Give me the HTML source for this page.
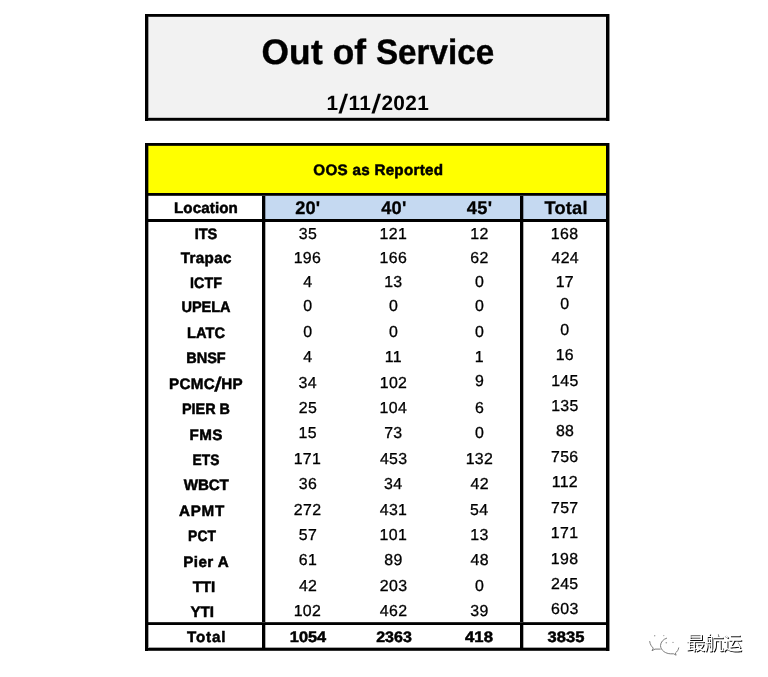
<!DOCTYPE html>
<html lang="en">
<head>
<meta charset="utf-8">
<title>Out of Service</title>
<style>
html,body{margin:0;padding:0;background:#fff;}
body{width:768px;height:677px;position:relative;overflow:hidden;font-family:"Liberation Sans","Noto Sans CJK SC",sans-serif;color:#000;}
.f{position:absolute;}
.t{position:absolute;white-space:nowrap;line-height:1;height:0;width:0;font-weight:700;}
.t>span{position:absolute;left:0;top:0;display:block;transform:translateX(-50%);white-space:nowrap;}
.n{font-weight:400;}
.sl.s2{font-size:1.3em;vertical-align:-0.12em;margin:0 0.02em 0 0.01em;}
body{text-rendering:geometricPrecision;}
.n{-webkit-text-stroke:0.3px #000;}
.l{-webkit-text-stroke:0.5px #000;}
.h{-webkit-text-stroke:0.3px #000;}
.sl{display:inline-block;font-size:1.27em;line-height:0;vertical-align:-0.125em;margin:0 0.05em 0 0.04em;transform:skewX(-8deg);}
.wm{position:absolute;left:685.8px;top:635.4px;font-size:19.6px;letter-spacing:-1.2px;line-height:1;white-space:nowrap;color:#fff;text-shadow:1px 1px 0.45px rgba(0,0,0,.95);font-family:"Liberation Sans","Noto Sans CJK SC",sans-serif;}
.wi{position:absolute;left:644px;top:628px;}
</style>
</head>
<body>

<div class="f" style="left:145px;top:14px;width:465px;height:107px;background:#8c8c8c"></div>
<div class="f" style="left:145px;top:14px;width:464px;height:107px;background:#000"></div>
<div class="f" style="left:148px;top:16px;width:458px;height:1px;background:#2e2e2e"></div>
<div class="f" style="left:148px;top:17px;width:458px;height:101px;background:#f2f2f2"></div>
<div class="f" style="left:148px;top:17px;width:1px;height:101px;background:#a0a0a0"></div>
<div class="f" style="left:149px;top:117px;width:457px;height:1px;background:#c4c4c4"></div>
<div class="f" style="left:148px;top:120px;width:458px;height:1px;background:#3a3a3a"></div>
<div class="f" style="left:145px;top:143px;width:465px;height:508px;background:#8c8c8c"></div>
<div class="f" style="left:145px;top:143px;width:464px;height:508px;background:#000"></div>
<div class="f" style="left:148px;top:145px;width:458px;height:1px;background:#2a2a00"></div>
<div class="f" style="left:148px;top:146px;width:458px;height:47px;background:#ffff00"></div>
<div class="f" style="left:148px;top:195px;width:458px;height:1px;background:#333"></div>
<div class="f" style="left:148px;top:196px;width:114px;height:23px;background:#fff"></div>
<div class="f" style="left:265px;top:196px;width:255px;height:23px;background:#c5d9f1"></div>
<div class="f" style="left:523px;top:196px;width:83px;height:23px;background:#c5d9f1"></div>
<div class="f" style="left:148px;top:222px;width:114px;height:400px;background:#fff"></div>
<div class="f" style="left:265px;top:222px;width:255px;height:400px;background:#fff"></div>
<div class="f" style="left:523px;top:222px;width:83px;height:400px;background:#fff"></div>
<div class="f" style="left:148px;top:622px;width:458px;height:1px;background:#2e2e2e"></div>
<div class="f" style="left:148px;top:625px;width:114px;height:23px;background:#fff"></div>
<div class="f" style="left:265px;top:625px;width:255px;height:23px;background:#fff"></div>
<div class="f" style="left:523px;top:625px;width:83px;height:23px;background:#fff"></div>
<div class="f" style="left:148px;top:650px;width:458px;height:1px;background:#333"></div>
<div class="f" style="left:148px;top:146px;width:1px;height:502px;background:rgba(0,0,0,.35)"></div>
<div class="f" style="left:265px;top:196px;width:1px;height:452px;background:rgba(0,0,0,.3)"></div>
<div class="f" style="left:523px;top:196px;width:1px;height:452px;background:rgba(0,0,0,.3)"></div>
<div class="f" style="left:149px;top:647px;width:457px;height:1px;background:rgba(0,0,0,.35)"></div>
<div class="g title"><div class="t" style="left:292.16px;top:34.72px;font-size:35.3px;-webkit-text-stroke:0.4px #000"><span style="letter-spacing:0.25px;margin-right:-0.25px">Out</span></div> <div class="t" style="left:349.37px;top:34.72px;font-size:35.3px;-webkit-text-stroke:0.4px #000"><span style="letter-spacing:-0.06px;margin-right:0.06px">of</span></div> <div class="t" style="left:434.65px;top:34.72px;font-size:35.3px;-webkit-text-stroke:0.4px #000"><span style="transform:scaleX(0.941) translateX(-50%);transform-origin:0 0">Service</span></div></div>
<div class="g date"><div class="t" style="left:377.85px;top:93.99px;font-size:20.8px"><span style="letter-spacing:0.39px;margin-right:-0.39px">1<span class="sl">/</span>11<span class="sl">/</span>2021</span></div></div>
<div class="g caption"><div class="t l" style="left:378.32px;top:163.13px;font-size:15.2px"><span style="letter-spacing:0.28px;margin-right:-0.28px">OOS as Reported</span></div></div>
<div class="g head"><div class="t l" style="left:205.95px;top:201.13px;font-size:15.2px"><span style="letter-spacing:0.09px;margin-right:-0.09px">Location</span></div> <div class="t h" style="left:307.79px;top:198.59px;font-size:18.2px"><span style="letter-spacing:0.22px;margin-right:-0.22px">20'</span></div> <div class="t h" style="left:393.85px;top:198.59px;font-size:18.2px"><span style="letter-spacing:0.21px;margin-right:-0.21px">40'</span></div> <div class="t h" style="left:479.64px;top:198.59px;font-size:18.2px"><span style="letter-spacing:0.44px;margin-right:-0.44px">45'</span></div> <div class="t h" style="left:566.12px;top:198.59px;font-size:18.2px"><span style="letter-spacing:0.23px;margin-right:-0.23px">Total</span></div></div>
<div class="g row r1"><div class="t l" style="left:206.03px;top:226.83px;font-size:15.2px"><span style="transform:scaleX(0.960) translateX(-50%);transform-origin:0 0">ITS</span></div> <div class="t n" style="left:307.95px;top:227.29px;font-size:15.9px"><span style="letter-spacing:0.3px;margin-right:-0.3px">35</span></div> <div class="t n" style="left:393.33px;top:227.29px;font-size:15.9px"><span style="letter-spacing:0.3px;margin-right:-0.3px">121</span></div> <div class="t n" style="left:479.4px;top:227.29px;font-size:15.9px"><span style="letter-spacing:0.3px;margin-right:-0.3px">12</span></div> <div class="t n" style="left:564.57px;top:227.29px;font-size:15.9px"><span style="letter-spacing:0.3px;margin-right:-0.3px">168</span></div></div>
<div class="g row r2"><div class="t l" style="left:206.24px;top:251.43px;font-size:15.2px"><span style="letter-spacing:0.37px;margin-right:-0.37px">Trapac</span></div> <div class="t n" style="left:307.35px;top:251.49px;font-size:15.9px"><span style="letter-spacing:0.3px;margin-right:-0.3px">196</span></div> <div class="t n" style="left:393.34px;top:251.49px;font-size:15.9px"><span style="letter-spacing:0.3px;margin-right:-0.3px">166</span></div> <div class="t n" style="left:479.4px;top:251.49px;font-size:15.9px"><span style="letter-spacing:0.3px;margin-right:-0.3px">62</span></div> <div class="t n" style="left:565.25px;top:251.49px;font-size:15.9px"><span style="letter-spacing:0.3px;margin-right:-0.3px">424</span></div></div>
<div class="g row r3"><div class="t l" style="left:205.96px;top:275.63px;font-size:15.2px"><span style="transform:scaleX(0.941) translateX(-50%);transform-origin:0 0">ICTF</span></div> <div class="t n" style="left:307.88px;top:275.29px;font-size:15.9px"><span style="letter-spacing:0.3px;margin-right:-0.3px">4</span></div> <div class="t n" style="left:393.3px;top:275.29px;font-size:15.9px"><span style="letter-spacing:0.3px;margin-right:-0.3px">13</span></div> <div class="t n" style="left:479.65px;top:274.59px;font-size:15.9px"><span style="letter-spacing:0.3px;margin-right:-0.3px">0</span></div> <div class="t n" style="left:564.85px;top:275.29px;font-size:15.9px"><span style="letter-spacing:0.3px;margin-right:-0.3px">17</span></div></div>
<div class="g row r4"><div class="t l" style="left:205.8px;top:300.23px;font-size:15.2px"><span style="transform:scaleX(0.956) translateX(-50%);transform-origin:0 0">UPELA</span></div> <div class="t n" style="left:307.87px;top:299.49px;font-size:15.9px"><span style="letter-spacing:0.3px;margin-right:-0.3px">0</span></div> <div class="t n" style="left:393.48px;top:299.49px;font-size:15.9px"><span style="letter-spacing:0.3px;margin-right:-0.3px">0</span></div> <div class="t n" style="left:479.65px;top:299.49px;font-size:15.9px"><span style="letter-spacing:0.3px;margin-right:-0.3px">0</span></div> <div class="t n" style="left:564.85px;top:296.79px;font-size:15.9px"><span style="letter-spacing:0.3px;margin-right:-0.3px">0</span></div></div>
<div class="g row r5"><div class="t l" style="left:206.02px;top:326.13px;font-size:15.2px"><span style="transform:scaleX(0.963) translateX(-50%);transform-origin:0 0">LATC</span></div> <div class="t n" style="left:307.87px;top:325.09px;font-size:15.9px"><span style="letter-spacing:0.3px;margin-right:-0.3px">0</span></div> <div class="t n" style="left:393.48px;top:325.09px;font-size:15.9px"><span style="letter-spacing:0.3px;margin-right:-0.3px">0</span></div> <div class="t n" style="left:479.65px;top:325.09px;font-size:15.9px"><span style="letter-spacing:0.3px;margin-right:-0.3px">0</span></div> <div class="t n" style="left:564.85px;top:323.09px;font-size:15.9px"><span style="letter-spacing:0.3px;margin-right:-0.3px">0</span></div></div>
<div class="g row r6"><div class="t l" style="left:205.95px;top:350.73px;font-size:15.2px"><span style="transform:scaleX(0.954) translateX(-50%);transform-origin:0 0">BNSF</span></div> <div class="t n" style="left:307.88px;top:350.09px;font-size:15.9px"><span style="letter-spacing:0.3px;margin-right:-0.3px">4</span></div> <div class="t n" style="left:393.3px;top:350.09px;font-size:15.9px"><span style="letter-spacing:0.3px;margin-right:-0.3px">11</span></div> <div class="t n" style="left:479.4px;top:350.09px;font-size:15.9px"><span style="letter-spacing:0.3px;margin-right:-0.3px">1</span></div> <div class="t n" style="left:564.85px;top:348.49px;font-size:15.9px"><span style="letter-spacing:0.3px;margin-right:-0.3px">16</span></div></div>
<div class="g row r7"><div class="t l" style="left:206.02px;top:376.93px;font-size:15.2px"><span style="letter-spacing:0.27px;margin-right:-0.27px">PCMC<span class="sl s2">/</span>HP</span></div> <div class="t n" style="left:307.67px;top:375.59px;font-size:15.9px"><span style="letter-spacing:0.3px;margin-right:-0.3px">34</span></div> <div class="t n" style="left:393.51px;top:375.59px;font-size:15.9px"><span style="letter-spacing:0.3px;margin-right:-0.3px">102</span></div> <div class="t n" style="left:479.68px;top:374.29px;font-size:15.9px"><span style="letter-spacing:0.3px;margin-right:-0.3px">9</span></div> <div class="t n" style="left:564.85px;top:374.29px;font-size:15.9px"><span style="letter-spacing:0.3px;margin-right:-0.3px">145</span></div></div>
<div class="g row r8"><div class="t l" style="left:206.07px;top:401.73px;font-size:15.2px"><span style="transform:scaleX(0.949) translateX(-50%);transform-origin:0 0">PIER B</span></div> <div class="t n" style="left:307.94px;top:401.29px;font-size:15.9px"><span style="letter-spacing:0.3px;margin-right:-0.3px">25</span></div> <div class="t n" style="left:393.34px;top:401.29px;font-size:15.9px"><span style="letter-spacing:0.3px;margin-right:-0.3px">104</span></div> <div class="t n" style="left:479.68px;top:400.59px;font-size:15.9px"><span style="letter-spacing:0.3px;margin-right:-0.3px">6</span></div> <div class="t n" style="left:564.85px;top:399.29px;font-size:15.9px"><span style="letter-spacing:0.3px;margin-right:-0.3px">135</span></div></div>
<div class="g row r9"><div class="t l" style="left:206.14px;top:427.83px;font-size:15.2px"><span style="letter-spacing:0.36px;margin-right:-0.36px">FMS</span></div> <div class="t n" style="left:307.67px;top:426.29px;font-size:15.9px"><span style="letter-spacing:0.3px;margin-right:-0.3px">15</span></div> <div class="t n" style="left:393.3px;top:426.29px;font-size:15.9px"><span style="letter-spacing:0.3px;margin-right:-0.3px">73</span></div> <div class="t n" style="left:479.65px;top:426.29px;font-size:15.9px"><span style="letter-spacing:0.3px;margin-right:-0.3px">0</span></div> <div class="t n" style="left:565.09px;top:423.99px;font-size:15.9px"><span style="letter-spacing:0.3px;margin-right:-0.3px">88</span></div></div>
<div class="g row r10"><div class="t l" style="left:205.99px;top:452.83px;font-size:15.2px"><span style="transform:scaleX(0.908) translateX(-50%);transform-origin:0 0">ETS</span></div> <div class="t n" style="left:307.37px;top:452.09px;font-size:15.9px"><span style="letter-spacing:0.3px;margin-right:-0.3px">171</span></div> <div class="t n" style="left:393.6px;top:452.09px;font-size:15.9px"><span style="letter-spacing:0.3px;margin-right:-0.3px">453</span></div> <div class="t n" style="left:479.4px;top:452.49px;font-size:15.9px"><span style="letter-spacing:0.3px;margin-right:-0.3px">132</span></div> <div class="t n" style="left:564.77px;top:450.49px;font-size:15.9px"><span style="letter-spacing:0.3px;margin-right:-0.3px">756</span></div></div>
<div class="g row r11"><div class="t l" style="left:206.3px;top:477.73px;font-size:15.2px"><span style="letter-spacing:-0.17px;margin-right:0.17px">WBCT</span></div> <div class="t n" style="left:307.96px;top:477.09px;font-size:15.9px"><span style="letter-spacing:0.3px;margin-right:-0.3px">36</span></div> <div class="t n" style="left:393.24px;top:477.09px;font-size:15.9px"><span style="letter-spacing:0.3px;margin-right:-0.3px">34</span></div> <div class="t n" style="left:479.68px;top:477.09px;font-size:15.9px"><span style="letter-spacing:0.3px;margin-right:-0.3px">42</span></div> <div class="t n" style="left:564.85px;top:475.09px;font-size:15.9px"><span style="letter-spacing:0.3px;margin-right:-0.3px">112</span></div></div>
<div class="g row r12"><div class="t l" style="left:202.04px;top:503.83px;font-size:15.2px"><span style="letter-spacing:0.73px;margin-right:-0.73px">APMT</span></div> <div class="t n" style="left:307.58px;top:503.29px;font-size:15.9px"><span style="letter-spacing:0.3px;margin-right:-0.3px">272</span></div> <div class="t n" style="left:393.46px;top:503.29px;font-size:15.9px"><span style="letter-spacing:0.3px;margin-right:-0.3px">431</span></div> <div class="t n" style="left:479.25px;top:503.29px;font-size:15.9px"><span style="letter-spacing:0.3px;margin-right:-0.3px">54</span></div> <div class="t n" style="left:564.77px;top:501.29px;font-size:15.9px"><span style="letter-spacing:0.3px;margin-right:-0.3px">757</span></div></div>
<div class="g row r13"><div class="t l" style="left:201.51px;top:528.83px;font-size:15.2px"><span style="transform:scaleX(0.914) translateX(-50%);transform-origin:0 0">PCT</span></div> <div class="t n" style="left:307.95px;top:527.59px;font-size:15.9px"><span style="letter-spacing:0.3px;margin-right:-0.3px">57</span></div> <div class="t n" style="left:393.33px;top:527.59px;font-size:15.9px"><span style="letter-spacing:0.3px;margin-right:-0.3px">101</span></div> <div class="t n" style="left:479.4px;top:528.29px;font-size:15.9px"><span style="letter-spacing:0.3px;margin-right:-0.3px">13</span></div> <div class="t n" style="left:564.57px;top:526.29px;font-size:15.9px"><span style="letter-spacing:0.3px;margin-right:-0.3px">171</span></div></div>
<div class="g row r14"><div class="t l" style="left:206.15px;top:554.73px;font-size:15.2px"><span style="letter-spacing:0.44px;margin-right:-0.44px">Pier A</span></div> <div class="t n" style="left:307.95px;top:552.59px;font-size:15.9px"><span style="letter-spacing:0.3px;margin-right:-0.3px">61</span></div> <div class="t n" style="left:393.49px;top:552.59px;font-size:15.9px"><span style="letter-spacing:0.3px;margin-right:-0.3px">89</span></div> <div class="t n" style="left:479.68px;top:552.59px;font-size:15.9px"><span style="letter-spacing:0.3px;margin-right:-0.3px">48</span></div> <div class="t n" style="left:564.57px;top:551.59px;font-size:15.9px"><span style="letter-spacing:0.3px;margin-right:-0.3px">198</span></div></div>
<div class="g row r15"><div class="t l" style="left:203.93px;top:580.23px;font-size:15.2px"><span style="letter-spacing:-0.11px;margin-right:0.11px">TTI</span></div> <div class="t n" style="left:308.02px;top:578.59px;font-size:15.9px"><span style="letter-spacing:0.3px;margin-right:-0.3px">42</span></div> <div class="t n" style="left:393.58px;top:578.59px;font-size:15.9px"><span style="letter-spacing:0.3px;margin-right:-0.3px">203</span></div> <div class="t n" style="left:479.65px;top:579.09px;font-size:15.9px"><span style="letter-spacing:0.3px;margin-right:-0.3px">0</span></div> <div class="t n" style="left:564.78px;top:577.09px;font-size:15.9px"><span style="letter-spacing:0.3px;margin-right:-0.3px">245</span></div></div>
<div class="g row r16"><div class="t l" style="left:202.1px;top:605.23px;font-size:15.2px"><span style="letter-spacing:-0.11px;margin-right:0.11px">YTI</span></div> <div class="t n" style="left:307.39px;top:603.59px;font-size:15.9px"><span style="letter-spacing:0.3px;margin-right:-0.3px">102</span></div> <div class="t n" style="left:393.57px;top:603.59px;font-size:15.9px"><span style="letter-spacing:0.3px;margin-right:-0.3px">462</span></div> <div class="t n" style="left:479.4px;top:603.59px;font-size:15.9px"><span style="letter-spacing:0.3px;margin-right:-0.3px">39</span></div> <div class="t n" style="left:564.84px;top:602.09px;font-size:15.9px"><span style="letter-spacing:0.3px;margin-right:-0.3px">603</span></div></div>
<div class="g row total"><div class="t l" style="left:206.63px;top:629.63px;font-size:15.2px"><span style="letter-spacing:0.82px;margin-right:-0.82px">Total</span></div> <div class="t l" style="left:307.5px;top:630.13px;font-size:15.2px"><span style="transform:scaleX(1.075) translateX(-50%);transform-origin:0 0">1054</span></div> <div class="t l" style="left:393.73px;top:630.13px;font-size:15.2px"><span style="transform:scaleX(1.052) translateX(-50%);transform-origin:0 0">2363</span></div> <div class="t l" style="left:479.44px;top:630.13px;font-size:15.2px"><span style="transform:scaleX(1.097) translateX(-50%);transform-origin:0 0">418</span></div> <div class="t l" style="left:565.84px;top:630.13px;font-size:15.2px"><span style="transform:scaleX(1.088) translateX(-50%);transform-origin:0 0">3835</span></div></div>
<svg class="wi" width="40" height="32" viewBox="644 628 40 32" fill="none" stroke-linecap="round">
<g stroke="#333" stroke-width="0.9" opacity=".7">
<path d="M649.7 641.5c0.4 3 1.8 5 3.6 6.6l-1.3 2.6l3-1.6h5.2"/>
<path d="M666.6 638.2c-3.4 1-5.9 3.9-6.1 7.4c0.1 2.4 1.4 4.400 3.300 5.900c2 1.500 4.300 2.200 6.900 2.300h3l2.400 1.400l-0.700-2.200c1.800-1.400 3-3.100 3.300-5.100"/>
</g>
<g fill="#555" opacity=".6" stroke="none">
<circle cx="654.700" cy="635.700" r="0.700"/><circle cx="663.800" cy="635.600" r="0.600"/>
<circle cx="666.300" cy="642.800" r="0.800"/><circle cx="673" cy="642.400" r="0.700"/>
</g>
</svg>
<div class="wm">最航运</div>
</body>
</html>
